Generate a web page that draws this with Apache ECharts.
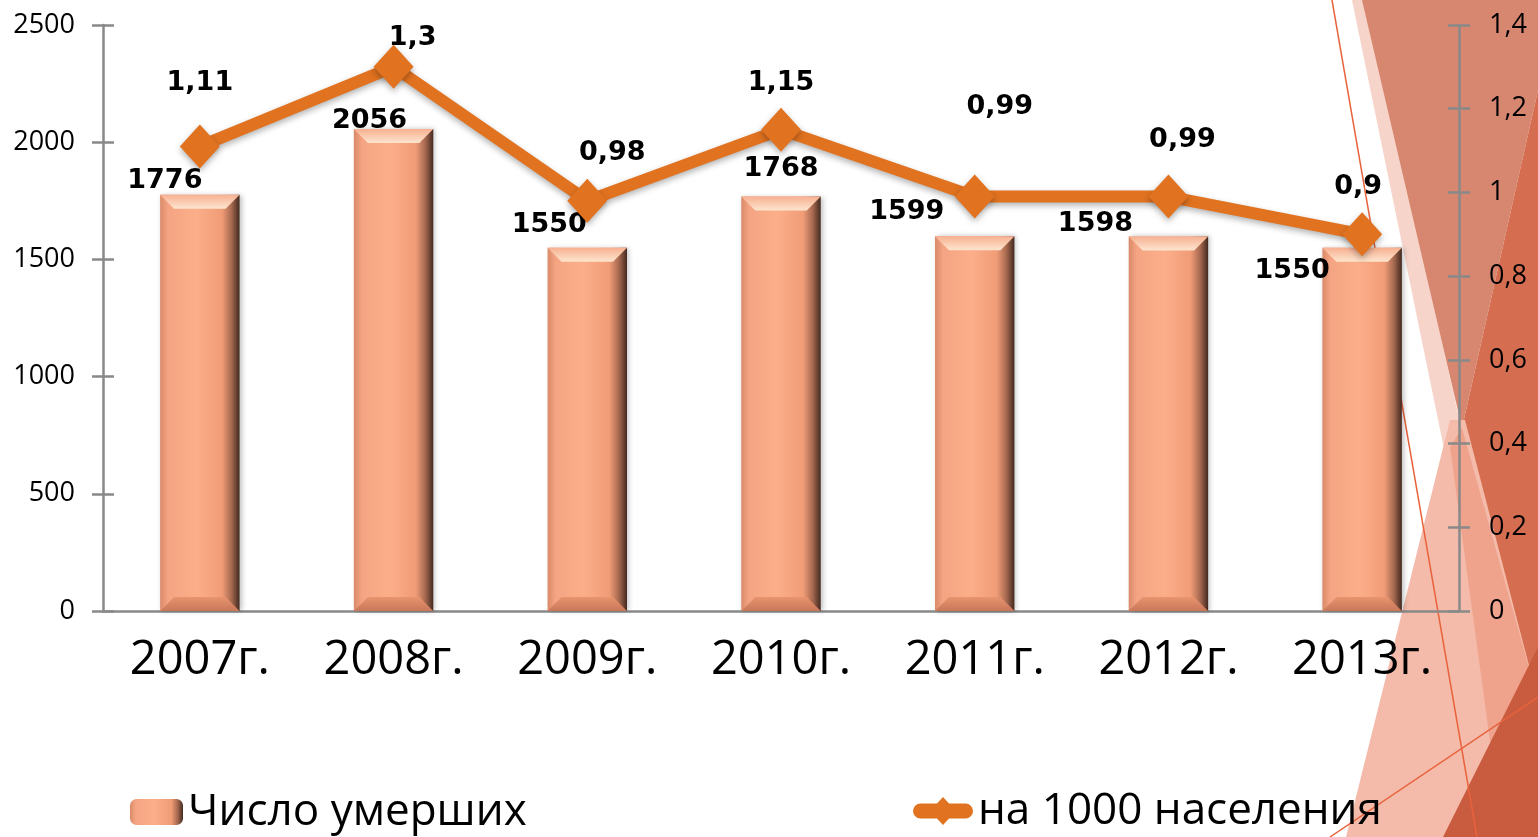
<!DOCTYPE html>
<html>
<head>
<meta charset="utf-8">
<script src="https://cdn.jsdelivr.net/npm/echarts@6/dist/echarts.min.js"></script>
<style>
  html, body { margin: 0; padding: 0; background: #fff; }
  #chart { width: 1538px; height: 837px; }
</style>
</head>
<body>
<div id="chart"></div>
<script>
const years = ["2007г.", "2008г.", "2009г.", "2010г.", "2011г.", "2012г.", "2013г."]
const deaths = [1776, 2056, 1550, 1768, 1599, 1598, 1550]
const per1000 = [1.11, 1.3, 0.98, 1.15, 0.99, 0.99, 0.9]

// label nudges, as in the original slide
const barLabelShift = [[-35, 5], [-24, 10], [-38, -4], [0, -9], [-68, -6], [-73, 6], [-70, 42]]
const lineLabelShift = [[0, -23], [19, 12], [25, -7], [0, -6], [25, -49], [14, -16], [-4, -7]]

const font = "'Open Sans', sans-serif"
const axisGray = "#898989"
const comma = v => String(+(+v).toFixed(2)).replace(".", ",")

const myChart = echarts.init(document.getElementById("chart"))

const barFill = new echarts.graphic.LinearGradient(0, 0, 1, 0, [
  { offset: 0, color: "#D98A69" },
  { offset: 0.1, color: "#F4A482" },
  { offset: 0.45, color: "#FCAE8A" },
  { offset: 0.78, color: "#F09C77" },
  { offset: 0.9, color: "#A5684F" },
  { offset: 1, color: "#43291F" }
])

const legendLine = "path://M7.5,6.5 L52.5,6.5 A7.5,7.5 0 0 1 52.5,21.5 L7.5,21.5 A7.5,7.5 0 0 1 7.5,6.5 Z M30,0 L43,14 L30,28 L17,14 Z"

const poly = (pts, fill) => ({ type: "polygon", z: -10, silent: true, shape: { points: pts }, style: { fill } })
const seg = (x1, y1, x2, y2) => ({
  type: "line", z: -9, silent: true,
  shape: { x1, y1, x2, y2 }, style: { stroke: "#E8633D", lineWidth: 1.5 }
})

const legendText = { fontFamily: font, fontSize: 44, color: "#000" }

myChart.setOption({
  backgroundColor: "#fff",
  animation: false,
  graphic: [
    poly([[1352, 0], [1365, 0], [1500, 600], [1475, 600]], "#F6D4CA"),
    poly([[1362, 0], [1538, 0], [1538, 90], [1462, 428]], "#D7876F"),
    poly([[1538, 90], [1462, 428], [1538, 700]], "#D56E50"),
    poly([[1450, 420], [1465, 420], [1538, 700], [1538, 837], [1346, 837]], "#F4BBAA"),
    poly([[1462, 428], [1538, 700], [1538, 837], [1503, 837], [1450, 447]], "#EFA38D"),
    poly([[1538, 647], [1538, 837], [1443, 837]], "#C95B3F"),
    seg(1332, 0, 1477, 837),
    seg(1330, 837, 1538, 697)
  ],
  grid: { left: 103, right: 79, top: 25, bottom: 226 },
  legend: [
    {
      data: ["Число умерших"],
      left: 130,
      top: 790,
      padding: 0,
      itemWidth: 53,
      itemHeight: 26,
      textStyle: legendText
    },
    {
      data: [{ name: "на 1000 населения", icon: legendLine }],
      left: 913,
      top: 789,
      padding: 0,
      itemWidth: 60,
      itemHeight: 28,
      itemStyle: { color: "#E1721F" },
      textStyle: legendText
    }
  ],
  xAxis: [
    {
      type: "category",
      data: years,
      axisLine: { lineStyle: { color: axisGray, width: 2.5 } },
      axisTick: { length: 16, lineStyle: { color: axisGray, width: 2.5 } },
      axisLabel: { fontFamily: font, fontSize: 47, color: "#000", margin: 26 }
    },
    {
      type: "category",
      data: years,
      position: "bottom",
      axisLine: { show: false },
      axisTick: { inside: true, length: 16, lineStyle: { color: axisGray, width: 2.5 } },
      axisLabel: { show: false }
    }
  ],
  yAxis: [
    {
      type: "value",
      min: 0, max: 2500, interval: 500,
      position: "left",
      splitLine: { show: false },
      axisLine: { show: true, lineStyle: { color: axisGray, width: 2.5 } },
      axisTick: { show: true, length: 11, lineStyle: { color: axisGray, width: 2.5 } },
      axisLabel: { fontFamily: font, fontSize: 27, color: "#000", margin: 28, formatter: v => String(v) }
    },
    {
      type: "value",
      min: 0, max: 1.4, interval: 0.2,
      position: "right",
      splitLine: { show: false },
      axisLine: { show: true, lineStyle: { color: axisGray, width: 2.5 } },
      axisTick: { show: true, length: 11, lineStyle: { color: axisGray, width: 2.5 } },
      axisLabel: { fontFamily: font, fontSize: 27, color: "#000", margin: 30, formatter: comma }
    },
    {
      type: "value",
      min: 0, max: 2500, interval: 500,
      position: "left",
      splitLine: { show: false },
      axisLine: { show: false },
      axisTick: { show: true, inside: true, length: 11, lineStyle: { color: axisGray, width: 2.5 } },
      axisLabel: { show: false }
    },
    {
      type: "value",
      min: 0, max: 1.4, interval: 0.2,
      position: "right",
      splitLine: { show: false },
      axisLine: { show: false },
      axisTick: { show: true, inside: true, length: 11, lineStyle: { color: axisGray, width: 2.5 } },
      axisLabel: { show: false }
    }
  ],
  series: [
    {
      name: "Число умерших",
      type: "bar",
      barWidth: "41%",
      z: 2,
      data: deaths.map((v, i) => ({
        value: v,
        label: { offset: barLabelShift[i] }
      })),
      itemStyle: {
        color: barFill,
        shadowBlur: 5,
        shadowColor: "rgba(0,0,0,0.25)",
        shadowOffsetX: 2
      },
      label: {
        show: true,
        position: "top",
        fontFamily: "'DejaVu Sans', sans-serif",
        fontWeight: "bold",
        fontSize: 27,
        color: "#000"
      }
    },
    {
      // bevel on the bar ends
      type: "custom",
      silent: true,
      z: 3,
      data: deaths.map((v, i) => [i, v]),
      encode: { x: 0, y: 1 },
      renderItem: (params, api) => {
        const top = api.coord([api.value(0), api.value(1)])
        const base = api.coord([api.value(0), 0])
        const w = api.size([1, 0])[0] * 0.41
        const b = 14
        const l = top[0] - w / 2, r = top[0] + w / 2, t = top[1], btm = base[1]
        return {
          type: "group",
          children: [
            {
              type: "polygon",
              shape: { points: [[l, t], [r, t], [r - b, t + b], [l + b, t + b]] },
              style: {
                fill: new echarts.graphic.LinearGradient(0, 0, 0, 1, [
                  { offset: 0, color: "#F7B091" },
                  { offset: 1, color: "#FDE5CE" }
                ])
              }
            },
            {
              type: "polygon",
              shape: { points: [[l, btm], [l + b, btm - b], [r - b, btm - b], [r, btm]] },
              style: {
                fill: new echarts.graphic.LinearGradient(0, 0, 0, 1, [
                  { offset: 0, color: "#E8946F" },
                  { offset: 1, color: "#C9775A" }
                ])
              }
            }
          ]
        }
      }
    },
    {
      name: "на 1000 населения",
      type: "line",
      yAxisIndex: 1,
      z: 5,
      symbol: "diamond",
      symbolSize: [40, 44],
      data: per1000.map((v, i) => ({
        value: v,
        label: { offset: lineLabelShift[i] }
      })),
      lineStyle: {
        color: "#E1721F",
        width: 12,
        shadowBlur: 6,
        shadowColor: "rgba(0,0,0,0.3)",
        shadowOffsetY: 3
      },
      itemStyle: {
        color: "#E1721F",
        shadowBlur: 6,
        shadowColor: "rgba(0,0,0,0.3)",
        shadowOffsetY: 3
      },
      label: {
        show: true,
        position: "top",
        fontFamily: "'DejaVu Sans', sans-serif",
        fontWeight: "bold",
        fontSize: 27,
        color: "#000",
        formatter: p => comma(p.value)
      }
    }
  ]
})

window.addEventListener("resize", () => {
  myChart.resize()
})
</script>
</body>
</html>
